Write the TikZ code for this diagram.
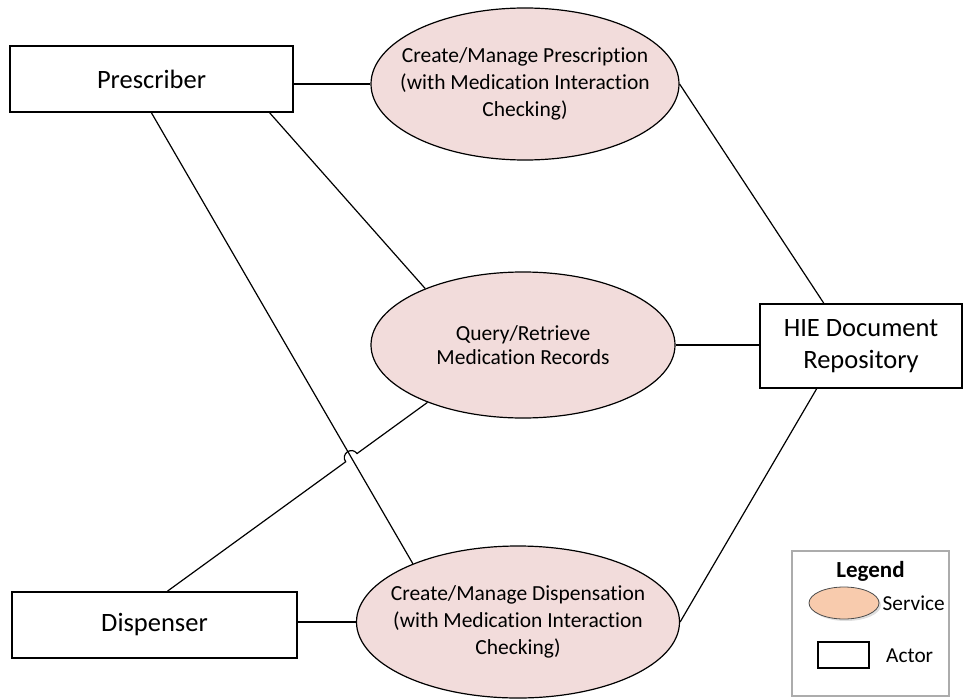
\documentclass[tikz,border=0pt]{standalone}
\usepackage{fontspec}
\setmainfont[RawFeature={-liga;-clig;-dlig;-calt}]{Carlito}
\usepackage{tikz}
\usetikzlibrary{shapes.geometric,calc,intersections,shadows}
\definecolor{svcpink}{HTML}{F2DCDB}
\definecolor{svcpeach}{HTML}{F8CBAD}

\begin{document}
\begin{tikzpicture}[x=1pt,y=-1pt,
  actor/.style={draw,line width=1.8pt,inner sep=0pt,align=center,
    font=\fontsize{26.5}{32}\selectfont},
  service/.style={ellipse,draw,line width=1.2pt,fill=svcpink,inner xsep=-25pt,inner ysep=0pt,
    align=center,font=\fontsize{21.5}{27}\selectfont},
  link/.style={line width=1.2pt},
  small/.style={font=\fontsize{21.3}{25}\selectfont}]
  \useasboundingbox (0,0) rectangle (973,698);
  \node[actor,minimum width=283pt,minimum height=66pt] (presc) at (151.5,79) {Prescriber};
  \node[actor,minimum width=285pt,minimum height=66pt] (dsp) at (154.5,625) {Dispenser};
  \node[actor,minimum width=202pt,minimum height=84pt] (hie) at (861,346) {HIE Document\\Repository};
  \node[service,minimum width=308pt,minimum height=152pt] (rx1) at (525,84)
    {Create/Manage Prescription\\(with Medication Interaction\\Checking)};
  \node[service,minimum width=304pt,minimum height=146pt,font=\fontsize{21.5}{24.5}\selectfont] (rx2) at (523,345)
    {Query/Retrieve\\Medication Records};
  \node[service,minimum width=323pt,minimum height=152pt] (rx3) at (518,622)
    {Create/Manage Dispensation\\(with Medication Interaction\\Checking)};

  \draw[link] (presc.east |- rx1.west) -- (rx1.west);
  \draw[link] (presc.-16) -- (rx2.150);
  \draw[link,name path=pd] (presc.south) -- (rx3.151);
  \draw[link] (dsp.east |- rx3.west) -- (rx3.west);
  \draw[link] (rx1.east) -- (hie.131);
  \draw[link] (rx2.east) -- (rx2.east -| hie.west);
  \draw[link] (rx3.east) -- (hie.224);
  \path[name path=dq] (dsp.69) -- (rx2.211);
  \path[name intersections={of=pd and dq,by=hop}];
  \coordinate (h1) at ($(hop)!7pt!(dsp.69)$);
  \coordinate (h2) at ($(hop)!7pt!(rx2.211)$);
  \draw[link] (dsp.69) -- (h1) .. controls ($(h1)!9.3pt!90:(hop)$) and ($(h2)!9.3pt!-90:(hop)$) .. (h2) -- (rx2.211);

  \node[draw=gray!65,line width=1.5pt,minimum width=157pt,minimum height=145pt] (legend) at (870.5,623.5) {};
  \node[small,font=\fontsize{23}{26}\bfseries] (ltitle) at (870.5,571) {Legend};
  \node[ellipse,draw=black!70,line width=0.8pt,fill=svcpeach,minimum width=70pt,minimum height=32pt,
    drop shadow={opacity=0.25,shadow xshift=2pt,shadow yshift=-2pt}] (lsvc) at (844,603) {};
  \node[small,anchor=west,inner sep=0pt] (lsvct) at ([xshift=3pt]lsvc.east) {Service};
  \node[draw,line width=1.8pt,minimum width=51pt,minimum height=26pt,inner sep=0pt] (lact) at (843.5,655) {};
  \node[small,anchor=west,inner sep=0pt] (lactt) at (886,656) {Actor};
\end{tikzpicture}
\end{document}
